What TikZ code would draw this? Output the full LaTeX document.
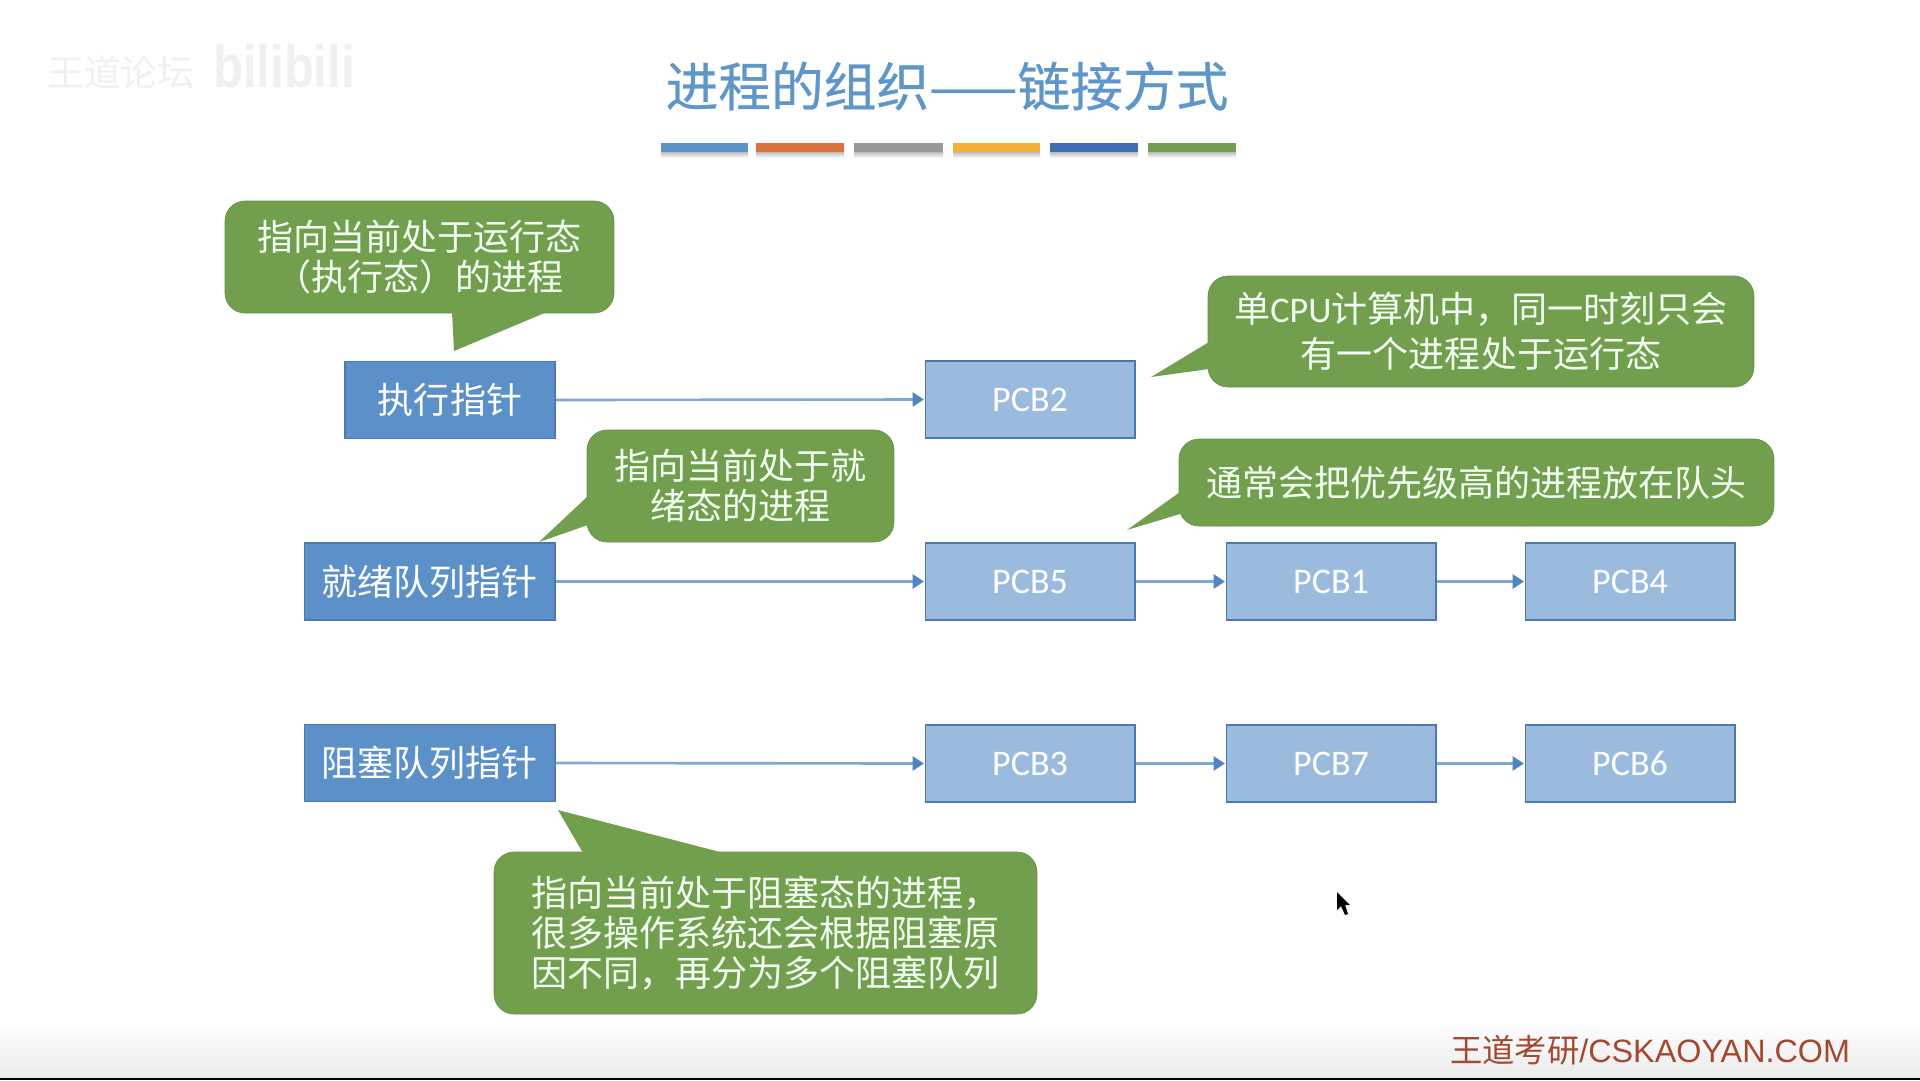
\documentclass[tikz,border=0pt]{standalone}
\usepackage{fontspec}
\setmainfont{Carlito}
\newfontfamily\cjk{Noto Sans CJK SC}
\newfontfamily\cjktitle[FakeBold=0.5]{Noto Sans CJK SC}
\newfontfamily\webfont{Liberation Sans}
\usetikzlibrary{arrows.meta}
\definecolor{ptrblue}{HTML}{5B90C8}
\definecolor{pcbblue}{HTML}{9ABBDE}
\definecolor{edgeblue}{HTML}{4C78AC}
\definecolor{linkblue}{HTML}{7FA8D4}
\definecolor{tipblue}{HTML}{4F86C2}
\definecolor{notegreen}{HTML}{729F4D}
\definecolor{titleblue}{HTML}{5F96CA}
\definecolor{sitered}{HTML}{A2492F}
\definecolor{barblue}{HTML}{5B90C9}
\definecolor{barorange}{HTML}{D9733F}
\definecolor{bargrey}{HTML}{999999}
\definecolor{baryellow}{HTML}{F0B03A}
\definecolor{bardark}{HTML}{3F6DB3}
\tikzset{
    ptrbox/.style={draw=edgeblue,fill=ptrblue,text=white,line width=0.6pt,inner sep=0pt,minimum height=1.54cm,font=\cjk\fontsize{20.5}{22.8}\selectfont},
    pcbbox/.style={draw=edgeblue,fill=pcbblue,text=white,line width=0.6pt,inner sep=0pt,minimum width=4.2cm,minimum height=1.54cm,font=\fontsize{20.5}{22.8}\selectfont},
    notebox/.style={draw=notegreen!90!black,fill=notegreen,text=white!95!green,line width=0.4pt,rounded corners=0.4cm,inner sep=0pt,align=center,font=\cjk\fontsize{20.5}{22.8}\selectfont},
    notetail/.style={fill=notegreen},
    link/.style={-{Triangle[length=6.5pt,width=8pt,color=tipblue]},draw=linkblue,line width=1.5pt,shorten >=0.3pt},
}
\begin{document}
\begin{tikzpicture}[x=0.02cm,y=-0.02cm]
    \useasboundingbox (0,0) rectangle (1920,1080);
    \fill[white] (0,0) rectangle (1920,1020);
    \shade[top color=white,bottom color=black!8] (0,1020) rectangle (1920,1078);
    \fill[black] (0,1078) rectangle (1920,1080);

    \node[text=black!6,font=\cjk\fontsize{21}{24}\selectfont] (forum) at (121,72) {王道论坛};
    \node[text=black!6,font=\webfont\bfseries\fontsize{34}{40}\selectfont,xscale=0.82] (bili) at (284,66) {bilibili};

    \node[text=titleblue,font=\cjktitle\fontsize{30}{32}\selectfont] (title) at (947,86) {进程的组织——链接方式};

    \shade[top color=black!30,bottom color=white] (661,151) rectangle (748,158);
    \shade[top color=black!30,bottom color=white] (756,151) rectangle (844,158);
    \shade[top color=black!30,bottom color=white] (854,151) rectangle (943,158);
    \shade[top color=black!30,bottom color=white] (953,151) rectangle (1040,158);
    \shade[top color=black!30,bottom color=white] (1050,151) rectangle (1138,158);
    \shade[top color=black!30,bottom color=white] (1148,151) rectangle (1236,158);
    \fill[barblue] (661,143) rectangle (748,151.5);
    \fill[barorange] (756,143) rectangle (844,151.5);
    \fill[bargrey] (854,143) rectangle (943,151.5);
    \fill[baryellow] (953,143) rectangle (1040,151.5);
    \fill[bardark] (1050,143) rectangle (1138,151.5);
    \fill[notegreen] (1148,143) rectangle (1236,151.5);

    \node[ptrbox,minimum width=4.2cm] (runptr) at (450,400) {执行指针};
    \node[ptrbox,minimum width=5.02cm] (readyptr) at (429.5,581.5) {就绪队列指针};
    \node[ptrbox,minimum width=5.02cm] (blockptr) at (429.5,763) {阻塞队列指针};

    \node[pcbbox] (pcbtwo) at (1030,399.5) {PCB2};
    \node[pcbbox] (pcbfive) at (1030,581.5) {PCB5};
    \node[pcbbox] (pcbone) at (1331,581.5) {PCB1};
    \node[pcbbox] (pcbfour) at (1630,581.5) {PCB4};
    \node[pcbbox] (pcbthree) at (1030,763.5) {PCB3};
    \node[pcbbox] (pcbseven) at (1331,763.5) {PCB7};
    \node[pcbbox] (pcbsix) at (1630,763.5) {PCB6};

    \draw[link] (runptr.east) -- (pcbtwo.west);
    \draw[link] (readyptr.east) -- (pcbfive.west);
    \draw[link] (pcbfive.east) -- (pcbone.west);
    \draw[link] (pcbone.east) -- (pcbfour.west);
    \draw[link] (blockptr.east) -- (pcbthree.west);
    \draw[link] (pcbthree.east) -- (pcbseven.west);
    \draw[link] (pcbseven.east) -- (pcbsix.west);

    \node[notebox,minimum width=7.78cm,minimum height=2.24cm] (runnote) at (419.5,257) {指向当前处于运行态\\（执行态）的进程};
    \fill[notetail] (452,312) -- (454,351) -- (547,312) -- cycle;
    \node[notebox,minimum width=6.14cm,minimum height=2.24cm] (readynote) at (740.5,486) {指向当前处于就\\绪态的进程};
    \fill[notetail] (588,496) -- (539,542) -- (588,525) -- cycle;
    \node[notebox,minimum width=10.92cm,minimum height=2.22cm,font=\cjk\fontsize{20.5}{25.6}\selectfont] (cpunote) at (1481,331.5) {单{\rmfamily CPU}计算机中，同一时刻只会\\有一个进程处于运行态};
    \fill[notetail] (1209,342) -- (1151,377) -- (1209,369) -- cycle;
    \node[notebox,minimum width=11.9cm,minimum height=1.74cm] (headnote) at (1476.5,482.5) {通常会把优先级高的进程放在队头};
    \fill[notetail] (1180,492) -- (1127,530) -- (1180,514) -- cycle;
    \node[notebox,minimum width=10.86cm,minimum height=3.24cm] (blocknote) at (765.5,933) {指向当前处于阻塞态的进程，\\很多操作系统还会根据阻塞原\\因不同，再分为多个阻塞队列};
    \fill[notetail] (583,853) -- (558,810) -- (724,853) -- cycle;

    \fill[black] (1337,892) -- (1337,910) -- (1341,906) -- (1345,915) -- (1348,914) -- (1345,905) -- (1350,905) -- cycle;

    \node[text=sitered,font=\webfont\fontsize{18.4}{20}\selectfont] (site) at (1650,1050) {{\cjk 王道考研}/CSKAOYAN.COM};
\end{tikzpicture}
\end{document}
